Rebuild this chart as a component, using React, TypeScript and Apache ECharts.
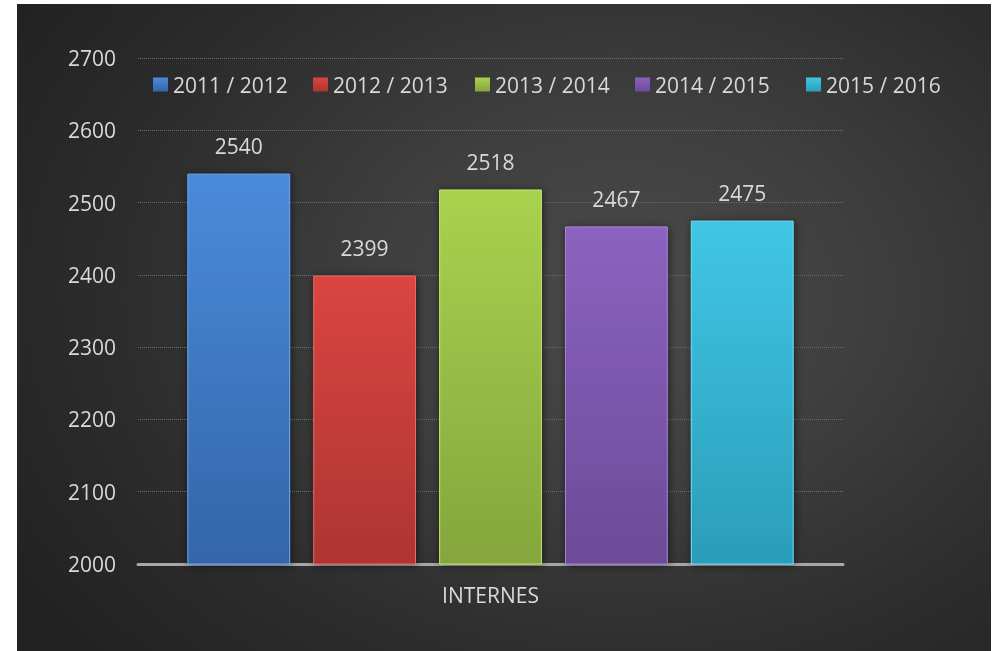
import React, { useEffect, useRef } from "react";
import * as echarts from "echarts";

const categories = ["INTERNES"];
const seriesNames = ["2011 / 2012", "2012 / 2013", "2013 / 2014", "2014 / 2015", "2015 / 2016"];
const values2011 = [2540];
const values2012 = [2399];
const values2013 = [2518];
const values2014 = [2467];
const values2015 = [2475];
const yMin = 2000;
const yMax = 2700;
const yStep = 100;

const seriesValues = [values2011, values2012, values2013, values2014, values2015];
const topColors = ["#4a8bda", "#db4541", "#a9d24e", "#8c62c0", "#40c6e4"];
const bottomColors = ["#3465a9", "#ad3531", "#84a63d", "#6c4b97", "#2b9dba"];
const edgeColors = ["#6aa6ee", "#ec6a66", "#c4e66c", "#a880d8", "#6cdcf4"];
const legendLefts = [136, 296, 458, 618, 789];

const FONT = "'Open Sans', sans-serif";
const TEXT = "#d9d9d9";

export default function App() {
  const ref = useRef<HTMLDivElement>(null);
  useEffect(() => {
    if (!ref.current) return;
    const chart = echarts.init(ref.current, undefined, { renderer: "svg" });
    const series = seriesNames.map((name, i) => ({
      name,
      type: "bar" as const,
      data: seriesValues[i],
      barGap: "22.5%",
      barCategoryGap: "14%",
      itemStyle: {
        color: new echarts.graphic.LinearGradient(0, 0, 0, 1, [
          { offset: 0, color: topColors[i] },
          { offset: 1, color: bottomColors[i] },
        ]),
        borderColor: edgeColors[i],
        borderWidth: 1,
        shadowBlur: 8,
        shadowColor: "rgba(0,0,0,0.55)",
        shadowOffsetX: 1,
        shadowOffsetY: 1,
      },
      label: {
        show: true,
        position: "top" as const,
        distance: 17,
        color: TEXT,
        fontSize: 21,
        fontFamily: FONT,
      },
    }));
    chart.setOption({
      animation: false,
      backgroundColor: "transparent",
      legend: seriesNames.map((name, i) => ({
        data: [name],
        left: legendLefts[i],
        top: 70,
        padding: 0,
        itemWidth: 15,
        itemHeight: 14,
        icon: "rect",
        itemStyle: { borderWidth: 0, shadowBlur: 0 },
        textStyle: { color: TEXT, fontSize: 21, fontFamily: FONT },
        selectedMode: false,
      })),
      grid: { left: 121, right: 148, top: 54, bottom: 87, containLabel: false },
      xAxis: {
        type: "category",
        data: categories,
        axisLine: { show: true, lineStyle: { color: "#a8a8a8", width: 3 } },
        axisTick: { show: false },
        axisLabel: { color: TEXT, fontSize: 21, fontFamily: FONT, margin: 20 },
      },
      yAxis: {
        type: "value",
        min: yMin,
        max: yMax,
        interval: yStep,
        axisLine: { show: false },
        axisTick: { show: false },
        axisLabel: {
          color: TEXT,
          fontSize: 21,
          fontFamily: FONT,
          margin: 22,
          formatter: (v: number) => String(v),
        },
        splitLine: { show: true, lineStyle: { color: "#6e6e6e", type: "dotted", width: 1 } },
      },
      series,
    });
    return () => chart.dispose();
  }, []);
  return (
    <div
      style={{
        position: "fixed",
        left: 17,
        top: 4,
        width: 974,
        height: 647,
        background:
          "radial-gradient(ellipse 75% 85% at 62% 45%, #4b4b4b 0%, #3e3e3e 35%, #2c2c2c 70%, #212121 100%)",
      }}
    >
      <div ref={ref} style={{ width: 974, height: 647 }} />
    </div>
  );
}
